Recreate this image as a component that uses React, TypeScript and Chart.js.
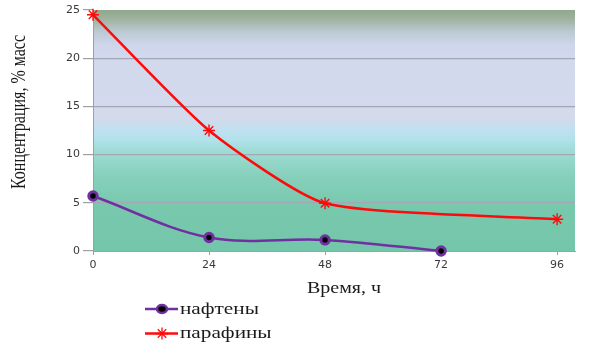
import React, { useEffect, useRef } from 'react';
import { Chart, registerables } from 'chart.js';

Chart.register(...registerables);

// ---- data ----
const xTickValues = [0, 24, 48, 72, 96];
const yTickValues = [0, 5, 10, 15, 20, 25];
const naphtheneHours = [0, 24, 48, 72];
const naphtheneValues = [5.7, 1.4, 1.15, 0];
const paraffinHours = [0, 24, 48, 96];
const paraffinValues = [24.5, 12.5, 4.95, 3.3];
const seriesNames = ['нафтены', 'парафины'];
const xTitle = 'Время, ч';
const yTitle = 'Концентрация, % масс';

const PURPLE = '#7030A0';
const RED = '#FF0a0a';

const bgPlugin = {
  id: 'plotBg',
  beforeDraw(chart: any) {
    const { ctx, chartArea: a } = chart;
    const g = ctx.createLinearGradient(0, a.top, 0, a.bottom);
    const stops: [number, string][] = [
      [0, 'rgb(143,168,138)'],
      [0.041, 'rgb(160,180,162)'],
      [0.091, 'rgb(188,202,210)'],
      [0.145, 'rgb(206,214,236)'],
      [0.207, 'rgb(210,217,236)'],
      [0.448, 'rgb(211,218,236)'],
      [0.498, 'rgb(192,224,240)'],
      [0.539, 'rgb(176,226,235)'],
      [0.581, 'rgb(160,220,213)'],
      [0.685, 'rgb(135,208,188)'],
      [0.809, 'rgb(120,200,174)'],
      [1, 'rgb(116,198,170)'],
    ];
    stops.forEach(([t, c]) => g.addColorStop(t, c));
    ctx.save();
    ctx.fillStyle = g;
    ctx.fillRect(a.left, a.top, a.right - a.left, a.bottom - a.top);
    ctx.restore();
  },
};

function drawStar(ctx: CanvasRenderingContext2D, x: number, y: number, r: number) {
  ctx.beginPath();
  for (let k = 0; k < 4; k++) {
    const ang = (k * Math.PI) / 4;
    ctx.moveTo(x + Math.cos(ang) * r, y + Math.sin(ang) * r);
    ctx.lineTo(x - Math.cos(ang) * r, y - Math.sin(ang) * r);
  }
  ctx.stroke();
}

const textPlugin = {
  id: 'textDecor',
  afterDraw(chart: any) {
    const { ctx } = chart;
    ctx.save();
    ctx.fillStyle = '#1a1a1a';
    // x axis title
    ctx.save();
    ctx.font = '16px "Liberation Serif", serif';
    ctx.textAlign = 'center';
    ctx.textBaseline = 'alphabetic';
    ctx.translate(344, 293);
    ctx.scale(1.25, 1);
    ctx.fillText(xTitle, 0, 0);
    ctx.restore();
    // y axis title
    ctx.save();
    ctx.font = '16px "Liberation Serif", serif';
    ctx.textAlign = 'center';
    ctx.textBaseline = 'alphabetic';
    ctx.translate(25, 112);
    ctx.rotate(-Math.PI / 2);
    ctx.scale(1, 1.3);
    ctx.fillText(yTitle, 0, 0);
    ctx.restore();
    // legend
    chart.data.datasets.forEach((ds: any, i: number) => {
      const cy = 309 + i * 24.5;
      ctx.save();
      ctx.strokeStyle = ds.borderColor;
      ctx.lineWidth = 2.5;
      ctx.beginPath();
      ctx.moveTo(145, cy);
      ctx.lineTo(178, cy);
      ctx.stroke();
      if (ds.pointStyle === 'circle') {
        ctx.beginPath();
        ctx.ellipse(162, cy, 5, 4, 0, 0, Math.PI * 2);
        ctx.fillStyle = ds.pointBackgroundColor;
        ctx.fill();
        ctx.lineWidth = 2.5;
        ctx.strokeStyle = ds.pointBorderColor;
        ctx.stroke();
      } else {
        ctx.lineWidth = 1.3;
        ctx.strokeStyle = ds.pointBorderColor;
        drawStar(ctx, 162, cy, 6);
      }
      ctx.fillStyle = '#1a1a1a';
      ctx.font = '17px "Liberation Serif", serif';
      ctx.textAlign = 'left';
      ctx.textBaseline = 'alphabetic';
      ctx.translate(180, cy + 4.5);
      ctx.scale(1.25, 1);
      ctx.fillText(ds.label, 0, 0);
      ctx.restore();
    });
    ctx.restore();
  },
};

export default function App() {
  const ref = useRef<HTMLCanvasElement | null>(null);

  useEffect(() => {
    document.body.style.margin = '0';
    const canvas = ref.current;
    if (!canvas) return;
    const tickFont = { family: '"DejaVu Sans", Verdana, sans-serif', size: 11 };
    const chart = new Chart(canvas, {
      type: 'line',
      data: {
        datasets: [
          {
            label: seriesNames[0],
            data: naphtheneHours.map((h, i) => ({ x: h, y: naphtheneValues[i] })),
            borderColor: PURPLE,
            borderWidth: 2.5,
            tension: 0.35,
            pointStyle: 'circle',
            pointRadius: 4.2,
            pointBorderWidth: 3,
            pointBackgroundColor: '#000000',
            pointBorderColor: PURPLE,
            clip: false,
          } as any,
          {
            label: seriesNames[1],
            data: paraffinHours.map((h, i) => ({ x: h, y: paraffinValues[i] })),
            borderColor: RED,
            borderWidth: 2.5,
            tension: 0.2,
            pointStyle: 'star',
            pointRadius: 6,
            pointBorderWidth: 1.4,
            pointBackgroundColor: RED,
            pointBorderColor: RED,
            clip: false,
          } as any,
        ],
      },
      options: {
        animation: false,
        responsive: false,
        devicePixelRatio: 1,
        layout: { padding: { top: 10, right: 25, left: 0, bottom: 0 } },
        plugins: {
          legend: { display: false },
          tooltip: { enabled: false },
        },
        scales: {
          x: {
            type: 'linear',
            min: 0,
            max: 99.7,
            afterBuildTicks: (s: any) => {
              s.ticks = xTickValues.map((v) => ({ value: v }));
            },
            afterFit: (s: any) => {
              s.height = 104;
            },
            grid: {
              drawOnChartArea: false,
              drawTicks: true,
              tickLength: 4,
              color: '#a0a0a0',
            },
            border: { color: '#a0a0a0', width: 1 },
            ticks: { padding: 4, font: tickFont, color: '#3a3a3a', maxRotation: 0, autoSkip: false },
          },
          y: {
            type: 'linear',
            min: 0,
            max: 25,
            afterBuildTicks: (s: any) => {
              s.ticks = yTickValues.map((v) => ({ value: v }));
            },
            afterFit: (s: any) => {
              s.width = 93;
            },
            grid: {
              color: (c: any) => (c.tick && (c.tick.value === 25 || c.tick.value === 0) ? 'rgba(0,0,0,0)' : '#a4a7b6'),
              tickColor: '#a0a0a0',
              tickLength: 10,
              lineWidth: 1.2,
            },
            border: { color: '#a0a0a0', width: 1 },
            ticks: { padding: 3, font: tickFont, color: '#3a3a3a' },
          },
        },
      } as any,
      plugins: [bgPlugin, textPlugin],
    });
    return () => chart.destroy();
  }, []);

  return (
    <div style={{ width: 600, height: 355, background: '#ffffff' }}>
      <canvas ref={ref} width={600} height={355} style={{ display: 'block', width: 600, height: 355 }} />
    </div>
  );
}
